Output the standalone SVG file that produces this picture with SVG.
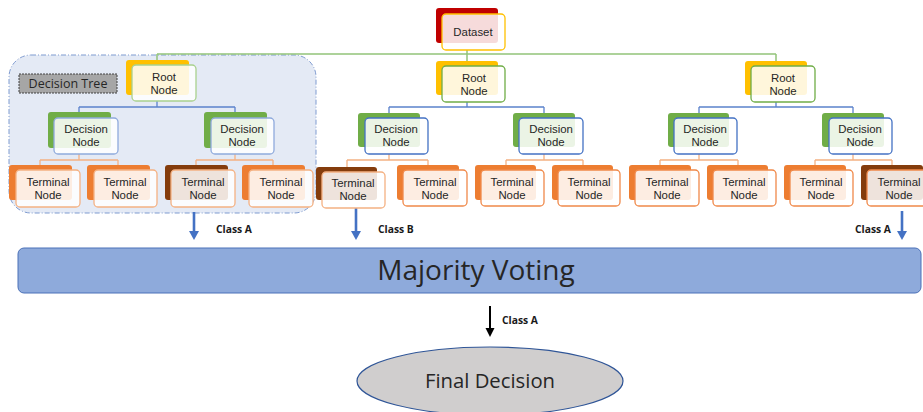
<svg xmlns="http://www.w3.org/2000/svg" width="923" height="412" viewBox="0 0 923 412">
<defs>
<style>
text{font-family:"Open Sans","Noto Sans","Liberation Sans",sans-serif;fill:#262626}
.t{font-family:"Liberation Sans",Arial,sans-serif;font-size:11.4px;text-anchor:middle}
.cls{font-size:10.3px;font-weight:bold;fill:#1a1a1a}
.bk{rx:3px;stroke:none}
.fr{rx:4px;fill:#fff;fill-opacity:.86;stroke-width:1.3}
.yel{fill:#ffc000}.grn{fill:#70ad47}.org{fill:#ed7d31}.brn{fill:#843c0c}.red{fill:#c00000}
.sr{stroke:#70ad47}.sd{stroke:#4472c4}.st{stroke:#f0894a}.sy{stroke:#ffc000}
.sr1{stroke:#a9d18e}.sd1{stroke:#8faadc}.st1{stroke:#f4b183}
.cg{fill:none;stroke:#92c47a;stroke-width:1.5}
.cb{fill:none;stroke:#5b82cc;stroke-width:1.3}
.co{fill:none;stroke:#f4b183;stroke-width:1.3}
</style>
<marker id="ab" markerUnits="userSpaceOnUse" markerWidth="10" markerHeight="10" refX="0" refY="5" orient="auto"><path d="M0,0 L9,5 L0,10 z" fill="#4472c4"/></marker>
<marker id="ak" markerUnits="userSpaceOnUse" markerWidth="10" markerHeight="10" refX="0" refY="4.5" orient="auto"><path d="M0,0 L9,4.5 L0,9 z" fill="#000"/></marker>
</defs>
<rect width="923" height="412" fill="#fff"/>
<g id="tree1-container">
<rect x="9" y="55" width="307" height="158" rx="22" fill="#e4eaf5" stroke="#7f9bd0" stroke-width="1" stroke-dasharray="5 2 1 2"/>
<rect x="19" y="74" width="98" height="19" fill="#a6a6a6" stroke="#404040" stroke-width="1" stroke-dasharray="2 1"/>
<text x="68" y="88" font-size="12.5" text-anchor="middle" fill="#1a1a1a">Decision Tree</text>
</g>
<g id="connectors">
<path class="cg" d="M467,50 V54 M157,54 H776 M157,54 V62 M467,54 V62 M776,54 V62"/>
<path class="cb" d="M157,101 V107 M79,107 H235 M79,107 V118 M235,107 V118"/>
<path class="cb" d="M467,102 V107 M389,107 H544 M389,107 V118 M544,107 V118"/>
<path class="cb" d="M776,102 V107 M699,107 H853 M699,107 V118 M853,107 V118"/>
<path class="co" d="M79,154 V160 M40,160 H118 M40,160 V170 M118,160 V170"/>
<path class="co" d="M235,154 V160 M196,160 H273 M196,160 V170 M273,160 V170"/>
<path class="co" d="M389,154 V160 M347,160 H428 M347,160 V172 M428,160 V170"/>
<path class="co" d="M544,154 V160 M506,160 H583 M506,160 V170 M583,160 V170"/>
<path class="co" d="M699,154 V160 M660,160 H738 M660,160 V170 M738,160 V170"/>
<path class="co" d="M853,154 V160 M815,160 H892 M815,160 V170 M892,160 V170"/>
<line x1="194" y1="212" x2="194" y2="231" stroke="#4472c4" stroke-width="2.6" marker-end="url(#ab)"/>
<line x1="356" y1="208" x2="356" y2="231" stroke="#4472c4" stroke-width="2.6" marker-end="url(#ab)"/>
<line x1="902" y1="211" x2="902" y2="231" stroke="#4472c4" stroke-width="2.6" marker-end="url(#ab)"/>
<line x1="490" y1="306" x2="490" y2="328" stroke="#000" stroke-width="2" marker-end="url(#ak)"/>
<text class="cls" x="216" y="233">Class A</text>
<text class="cls" x="378" y="233">Class B</text>
<text class="cls" x="855" y="233">Class A</text>
<text class="cls" x="502" y="324">Class A</text>
</g>
<g id="dataset"><rect class="bk red" x="436" y="8" width="62" height="35"/><rect class="fr sy" x="442" y="14" width="63" height="36"/><text class="t" x="473" y="36">Dataset</text></g>
<g id="root1"><rect class="bk yel" x="126" y="60" width="63" height="35"/><rect class="fr sr1" x="132" y="65" width="64" height="36"/><text class="t" x="164" y="81">Root<tspan x="164" dy="13">Node</tspan></text></g>
<g id="dec1L"><rect class="bk grn" x="48" y="112" width="63" height="36"/><rect class="fr sd1" x="54" y="118" width="64" height="36"/><text class="t" x="86" y="133">Decision<tspan x="86" dy="13">Node</tspan></text></g>
<g id="dec1R"><rect class="bk grn" x="204" y="112" width="63" height="36"/><rect class="fr sd1" x="211" y="118" width="63" height="36"/><text class="t" x="242" y="133">Decision<tspan x="242" dy="13">Node</tspan></text></g>
<g id="term1a"><rect class="bk org" x="9" y="165" width="63" height="35"/><rect class="fr st1" x="16" y="170" width="64" height="37"/><text class="t" x="48" y="186">Terminal<tspan x="48" dy="13">Node</tspan></text></g>
<g id="term1b"><rect class="bk org" x="87" y="165" width="63" height="35"/><rect class="fr st1" x="94" y="170" width="63" height="37"/><text class="t" x="125" y="186">Terminal<tspan x="125" dy="13">Node</tspan></text></g>
<g id="term1c"><rect class="bk brn" x="165" y="165" width="63" height="35"/><rect class="fr st1" x="171" y="170" width="64" height="37"/><text class="t" x="203" y="186">Terminal<tspan x="203" dy="13">Node</tspan></text></g>
<g id="term1d"><rect class="bk org" x="242" y="165" width="63" height="35"/><rect class="fr st1" x="249" y="170" width="64" height="37"/><text class="t" x="281" y="186">Terminal<tspan x="281" dy="13">Node</tspan></text></g>
<g id="root2"><rect class="bk yel" x="436" y="61" width="62" height="34"/><rect class="fr sr" x="442" y="66" width="63" height="36"/><text class="t" x="474" y="82">Root<tspan x="474" dy="13">Node</tspan></text></g>
<g id="dec2L"><rect class="bk grn" x="358" y="113" width="62" height="34"/><rect class="fr sd" x="365" y="118" width="63" height="36"/><text class="t" x="396" y="133">Decision<tspan x="396" dy="13">Node</tspan></text></g>
<g id="dec2R"><rect class="bk grn" x="513" y="113" width="62" height="34"/><rect class="fr sd" x="519" y="118" width="64" height="36"/><text class="t" x="551" y="133">Decision<tspan x="551" dy="13">Node</tspan></text></g>
<g id="term2a"><rect class="bk brn" x="316" y="167" width="61" height="33"/><rect class="fr st1" x="322" y="172" width="63" height="36"/><text class="t" x="353" y="187">Terminal<tspan x="353" dy="13">Node</tspan></text></g>
<g id="term2b"><rect class="bk org" x="397" y="165" width="62" height="35"/><rect class="fr st" x="403" y="170" width="64" height="36"/><text class="t" x="435" y="186">Terminal<tspan x="435" dy="13">Node</tspan></text></g>
<g id="term2c"><rect class="bk org" x="475" y="165" width="61" height="35"/><rect class="fr st" x="481" y="170" width="63" height="36"/><text class="t" x="512" y="186">Terminal<tspan x="512" dy="13">Node</tspan></text></g>
<g id="term2d"><rect class="bk org" x="552" y="165" width="61" height="35"/><rect class="fr st" x="558" y="170" width="62" height="36"/><text class="t" x="589" y="186">Terminal<tspan x="589" dy="13">Node</tspan></text></g>
<g id="root3"><rect class="bk yel" x="745" y="61" width="62" height="34"/><rect class="fr sr" x="751" y="66" width="64" height="36"/><text class="t" x="783" y="82">Root<tspan x="783" dy="13">Node</tspan></text></g>
<g id="dec3L"><rect class="bk grn" x="668" y="113" width="61" height="34"/><rect class="fr sd" x="674" y="118" width="63" height="36"/><text class="t" x="705" y="133">Decision<tspan x="705" dy="13">Node</tspan></text></g>
<g id="dec3R"><rect class="bk grn" x="822" y="113" width="62" height="34"/><rect class="fr sd" x="829" y="118" width="63" height="36"/><text class="t" x="860" y="133">Decision<tspan x="860" dy="13">Node</tspan></text></g>
<g id="term3a"><rect class="bk org" x="629" y="165" width="62" height="35"/><rect class="fr st" x="635" y="170" width="64" height="36"/><text class="t" x="667" y="186">Terminal<tspan x="667" dy="13">Node</tspan></text></g>
<g id="term3b"><rect class="bk org" x="707" y="165" width="61" height="35"/><rect class="fr st" x="713" y="170" width="63" height="36"/><text class="t" x="744" y="186">Terminal<tspan x="744" dy="13">Node</tspan></text></g>
<g id="term3c"><rect class="bk org" x="784" y="165" width="62" height="35"/><rect class="fr st" x="790" y="170" width="63" height="36"/><text class="t" x="821" y="186">Terminal<tspan x="821" dy="13">Node</tspan></text></g>
<g id="term3d"><rect class="bk brn" x="861" y="165" width="62" height="35"/><rect class="fr st" x="867" y="170" width="64" height="36"/><text class="t" x="899" y="186">Terminal<tspan x="899" dy="13">Node</tspan></text></g>
<g id="majority-voting"><rect x="18" y="248" width="903" height="45" rx="6" fill="#8eaadb" stroke="#4a70b8" stroke-width="1"/><text x="476" y="280" font-size="28" text-anchor="middle" fill="#0d0d0d">Majority Voting</text></g>
<g id="final-decision"><ellipse cx="490" cy="381" rx="133" ry="34" fill="#d0cece" stroke="#2f5597" stroke-width="1.2"/><text x="490" y="388" font-size="20.3" text-anchor="middle" fill="#0d0d0d">Final Decision</text></g>
</svg>
